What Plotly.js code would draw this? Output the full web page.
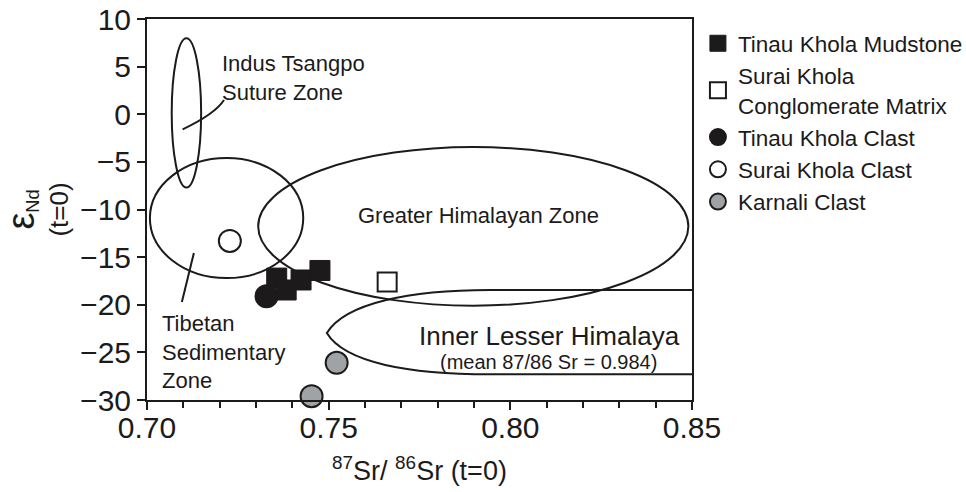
<!DOCTYPE html>
<html>
<head>
<meta charset="utf-8">
<script src="https://cdn.plot.ly/plotly-3.0.1.min.js"></script>
<style>
  html, body { margin: 0; padding: 0; background: #fff; }
  #chart { width: 966px; height: 492px; }
</style>
</head>
<body>
<div id="chart"></div>
<script>
// 87Sr/86Sr (t=0) versus εNd (t=0) for mudstones, conglomerate matrix and clasts
const mudstoneSr = [0.7357, 0.7383, 0.7424, 0.7476];
const mudstoneNd = [-17.2, -18.45, -17.4, -16.4];

const matrixSr = [0.7661];
const matrixNd = [-17.6];

const tinauClastSr = [0.7329];
const tinauClastNd = [-19.1];

const suraiClastSr = [0.7228];
const suraiClastNd = [-13.3];

const karnaliSr = [0.7522, 0.7453];
const karnaliNd = [-26.1, -29.6];

const seriesNames = [
  'Tinau Khola Mudstone',
  'Surai Khola<br>Conglomerate Matrix',
  'Tinau Khola Clast',
  'Surai Khola Clast',
  'Karnali Clast'
];

// Source-region fields drawn as ellipses (Sr min/max, Nd min/max)
const fieldSrMin = [0.7068, 0.7008, 0.7306];
const fieldSrMax = [0.7149, 0.7430, 0.8490];
const fieldNdMin = [-7.7, -17.2, -20.1];
const fieldNdMax = [7.97, -4.6, -3.44];

// Inner Lesser Himalaya field: pointed western end, open past the axis limit
const ilhTipSr = 0.7495, ilhTipNd = -22.97;
const ilhCtrlSr = [0.7545, 0.7724, 0.7944, 0.8700];
const ilhUpperNd = [-19.82, -18.45, -18.45];
const ilhLowerNd = [-26.12, -27.3, -27.3];

// Label leader lines [Sr0, Nd0, SrCtrl, NdCtrl, Sr1, Nd1]
const indusLeader = [0.7098, -1.58, 0.7187, 0.03, 0.7212, 1.5];
const tibetLeader = [0.7129, -14.57, 0.7096, -19.71];

const xTicks = [0.70, 0.75, 0.80, 0.85];
const yTicks = [10, 5, 0, -5, -10, -15, -20, -25, -30];

const INK = '#1c1a1b';
const GREY = '#a0a3a6';
const FONT = 'Liberation Sans, Arial, Helvetica, sans-serif';

const traces = [
  { x: mudstoneSr, y: mudstoneNd, name: seriesNames[0],
    marker: { symbol: 'square', size: 20, color: INK, line: { color: INK, width: 1 } } },
  { x: matrixSr, y: matrixNd, name: seriesNames[1],
    marker: { symbol: 'square', size: 19, color: '#ffffff', line: { color: INK, width: 2 } } },
  { x: tinauClastSr, y: tinauClastNd, name: seriesNames[2],
    marker: { symbol: 'circle', size: 22, color: INK, line: { color: INK, width: 2 } } },
  { x: suraiClastSr, y: suraiClastNd, name: seriesNames[3],
    marker: { symbol: 'circle', size: 22, color: '#ffffff', line: { color: INK, width: 2 } } },
  { x: karnaliSr, y: karnaliNd, name: seriesNames[4],
    marker: { symbol: 'circle', size: 22, color: GREY, line: { color: INK, width: 2 } } }
].map(t => Object.assign({ type: 'scatter', mode: 'markers', cliponaxis: false }, t));

const outline = { color: INK, width: 2 };
const shapes = fieldSrMin.map((v, i) => ({
  type: 'circle', xref: 'x', yref: 'y', layer: 'below',
  x0: v, x1: fieldSrMax[i], y0: fieldNdMin[i], y1: fieldNdMax[i],
  line: outline, fillcolor: 'rgba(0,0,0,0)'
}));

const p = (sr, nd) => sr + ',' + nd;
const ilhPath =
  'M' + p(ilhTipSr, ilhTipNd) +
  ' C' + p(ilhCtrlSr[0], ilhUpperNd[0]) + ' ' + p(ilhCtrlSr[1], ilhUpperNd[1]) + ' ' + p(ilhCtrlSr[2], ilhUpperNd[2]) +
  ' L' + p(ilhCtrlSr[3], ilhUpperNd[2]) +
  ' L' + p(ilhCtrlSr[3], ilhLowerNd[2]) +
  ' L' + p(ilhCtrlSr[2], ilhLowerNd[2]) +
  ' C' + p(ilhCtrlSr[1], ilhLowerNd[1]) + ' ' + p(ilhCtrlSr[0], ilhLowerNd[0]) + ' ' + p(ilhTipSr, ilhTipNd) + ' Z';
shapes.push({ type: 'path', xref: 'x', yref: 'y', layer: 'below', path: ilhPath,
  line: outline, fillcolor: 'rgba(0,0,0,0)' });

shapes.push({ type: 'path', xref: 'x', yref: 'y', layer: 'below',
  path: 'M' + p(indusLeader[0], indusLeader[1]) + ' Q' + p(indusLeader[2], indusLeader[3]) + ' ' + p(indusLeader[4], indusLeader[5]),
  line: outline });
shapes.push({ type: 'line', xref: 'x', yref: 'y', layer: 'below',
  x0: tibetLeader[0], y0: tibetLeader[1], x1: tibetLeader[2], y1: tibetLeader[3],
  line: outline });

const txt = (text, x, y, size, align, xanchor) => ({
  text, x, y, xref: 'x', yref: 'y', showarrow: false, align, xanchor, yanchor: 'middle',
  font: { family: FONT, size, color: INK }
});

const annotations = [
  txt('Indus Tsangpo<br>Suture Zone', 0.7200, 3.8, 22, 'left', 'left'),
  txt('Greater Himalayan Zone', 0.7912, -10.6, 22, 'center', 'center'),
  txt('Tibetan<br>Sedimentary<br>Zone', 0.7035, -25.0, 22, 'left', 'left'),
  txt('Inner Lesser Himalaya', 0.8107, -23.28, 26, 'center', 'center'),
  txt('(mean 87/86 Sr = 0.984)', 0.8104, -25.96, 20, 'center', 'center')
];

const layout = {
  width: 966, height: 492,
  margin: { l: 147, r: 274, t: 19, b: 92, pad: 0 },
  paper_bgcolor: '#ffffff', plot_bgcolor: '#ffffff',
  font: { family: FONT, color: INK },
  showlegend: true,
  legend: {
    xref: 'container', yref: 'container',
    x: 0.7225, xanchor: 'left', y: 0.955, yanchor: 'top',
    font: { family: FONT, size: 22.5, color: INK },
    bgcolor: 'rgba(0,0,0,0)', borderwidth: 0, itemsizing: 'trace'
  },
  xaxis: {
    range: [0.70, 0.85], tickvals: xTicks, tickformat: '.2f',
    ticks: 'outside', ticklen: 8, tickwidth: 2, tickcolor: INK,
    ticklabelstandoff: -8,
    minor: { dtick: 0.01, tick0: 0.70, ticks: 'outside', ticklen: 6, tickwidth: 2, tickcolor: INK },
    showline: true, linewidth: 2, linecolor: INK, mirror: true,
    showgrid: false, zeroline: false,
    tickfont: { family: FONT, size: 30, color: INK },
    title: { text: '<sup>87</sup>Sr/ <sup>86</sup>Sr (t=0)', font: { family: FONT, size: 27, color: INK }, standoff: 18 }
  },
  yaxis: {
    range: [-30, 10], tickvals: yTicks,
    ticks: 'outside', ticklen: 8, tickwidth: 2, tickcolor: INK,
    showline: true, linewidth: 2, linecolor: INK, mirror: true,
    showgrid: false, zeroline: false,
    tickfont: { family: FONT, size: 30, color: INK },
    title: { text: '<span style="font-size:38px">ε</span><sub>Nd</sub><br>(t=0)', font: { family: FONT, size: 26, color: INK }, standoff: 14 }
  },
  shapes, annotations
};

Plotly.newPlot('chart', traces, layout, { staticPlot: true, displayModeBar: false });
</script>
</body>
</html>
